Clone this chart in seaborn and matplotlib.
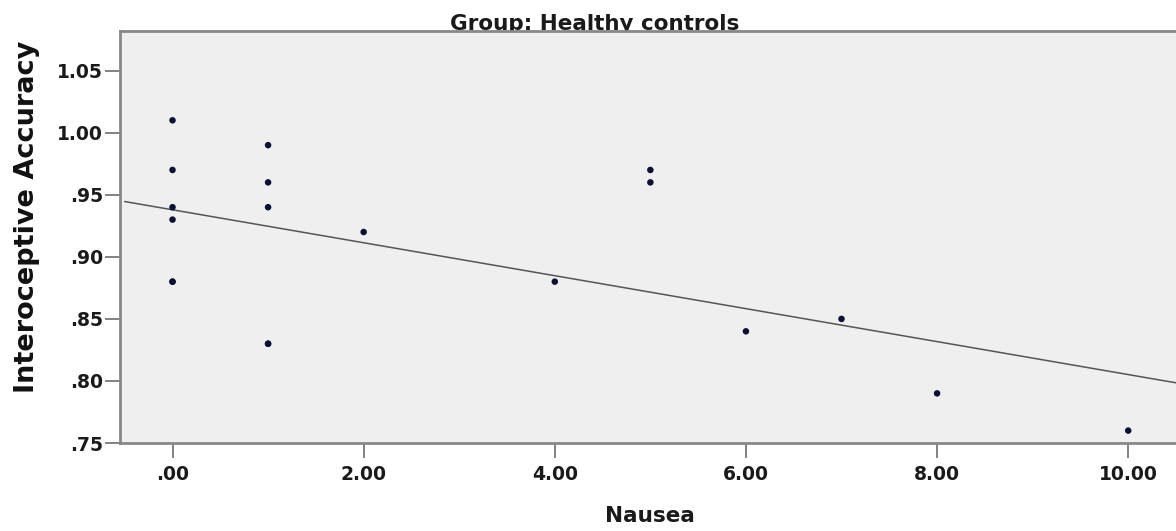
import matplotlib
matplotlib.use("Agg")
import matplotlib.pyplot as plt
import seaborn as sns
import pandas as pd

# Data (two points overlap others at .88 and .83)
nausea = [0, 0, 0, 0, 0, 0, 1, 1, 1, 1, 1, 2, 4, 5, 5, 6, 7, 8, 10]
accuracy = [1.01, 0.97, 0.94, 0.93, 0.88, 0.88, 0.99, 0.96, 0.94, 0.83, 0.83,
            0.92, 0.88, 0.97, 0.96, 0.84, 0.85, 0.79, 0.76]
x_ticks = [0, 2, 4, 6, 8, 10]
x_labels = [".00", "2.00", "4.00", "6.00", "8.00", "10.00"]
y_ticks = [0.75, 0.80, 0.85, 0.90, 0.95, 1.00, 1.05]
y_labels = [".75", ".80", ".85", ".90", ".95", "1.00", "1.05"]

df = pd.DataFrame({"Nausea": nausea, "Accuracy": accuracy})

sns.set_style("white")
plt.rcParams["font.family"] = ["DejaVu Sans"]

fig = plt.figure(figsize=(11.76, 5.31), dpi=100)
ax = fig.add_axes([0.102, 0.1657, 0.898, 0.776])
ax.set_facecolor("#efefef")

# scatter points plus the fitted line across the whole axis
sns.regplot(data=df, x="Nausea", y="Accuracy", ax=ax, ci=None, truncate=False,
            scatter_kws={"s": 22, "color": "#0d0f33", "alpha": 1,
                         "edgecolor": "none", "zorder": 3},
            line_kws={"color": "#555555", "linewidth": 1.1, "zorder": 2})

ax.set_xlim(-0.55, 10.5)
ax.set_ylim(0.75, 1.082)
ax.set_xticks(x_ticks)
ax.set_xticklabels(x_labels, fontsize=13.5, fontweight="bold")
ax.set_yticks(y_ticks)
ax.set_yticklabels(y_labels, fontsize=13.5, fontweight="bold")
ax.tick_params(axis="both", direction="out", length=11, width=1.3,
               color="#777777", labelcolor="#1a1a1a", pad=5,
               bottom=True, left=True)
ax.tick_params(axis="y", pad=1)

for side in ["left", "bottom", "top"]:
    ax.spines[side].set_color("#888888")
    ax.spines[side].set_linewidth(2)
ax.spines["right"].set_visible(False)

ax.set_xlabel("Nausea", fontsize=15.5, fontweight="bold", color="#1a1a1a")
ax.xaxis.set_label_coords(0.502, -0.152)
ax.set_ylabel("Interoceptive Accuracy", fontsize=19.5, fontweight="bold",
              color="#111111")
ax.yaxis.set_label_coords(-0.076, 0.549)

# title sits on the top spine, descenders hidden behind the axes
fig.text(0.506, 0.943, "Group: Healthy controls", ha="center", va="baseline",
         fontsize=15.5, fontweight="bold", color="#1a1a1a", zorder=-1)

fig.savefig("out.png", dpi=100)
